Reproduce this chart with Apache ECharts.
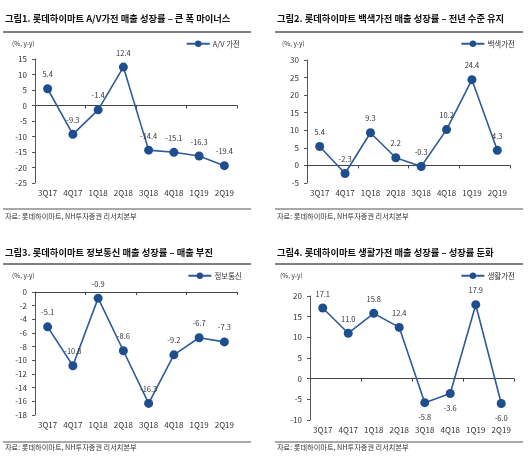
<!DOCTYPE html>
<html><head><meta charset="utf-8">
<script src="https://cdn.jsdelivr.net/npm/echarts@6/dist/echarts.min.js"></script>
<style>html,body{margin:0;padding:0;background:#fff}#c{width:530px;height:459px}</style>
</head><body><div id="c"></div>
<script>
const categories = ['3Q17','4Q17','1Q18','2Q18','3Q18','4Q18','1Q19','2Q19'];
const avValues = [5.4,-9.3,-1.4,12.4,-14.4,-15.1,-16.3,-19.4];
const whiteValues = [5.4,-2.3,9.3,2.2,-0.3,10.2,24.4,4.3];
const infoValues = [-5.1,-10.8,-0.9,-8.6,-16.3,-9.2,-6.7,-7.3];
const lifeValues = [17.1,11.0,15.8,12.4,-5.8,-3.6,17.9,-6.0];
const seriesNames = ['A/V 가전','백색가전','정보통신','생활가전'];
const titles = [
  '그림1. 롯데하이마트 A/V가전 매출 성장률 – 큰 폭 마이너스',
  '그림2. 롯데하이마트 백색가전 매출 성장률 – 전년 수준 유지',
  '그림3. 롯데하이마트 정보통신 매출 성장률 – 매출 부진',
  '그림4. 롯데하이마트 생활가전 매출 성장률 – 성장률 둔화'
];
const sourceText = '자료: 롯데하이마트, NH투자증권 리서치본부';
const unitText = '(%, y-y)';
const yRanges = [[-25,15,5],[-5,30,5],[-18,0,2],[-10,20,5]];
const lifeLabelPos = ['top','top','top','top','bottom','bottom','top','bottom'];

const FONT = '"Noto Sans CJK KR", "Noto Sans", sans-serif';
const LINE = '#2d5b99', DOT = '#1f4e8f', TXT = '#333';
const grids = [
  {left:35, top:59, width:202, height:124},
  {left:307, top:60, width:203, height:123},
  {left:35, top:292, width:202, height:123},
  {left:310, top:296, width:204, height:124}
];
const allData = [avValues, whiteValues, infoValues, lifeValues];
const panelX = [5, 277, 5, 277];
const titleY = [20, 20, 254, 254];
const ruleY = [32, 32, 264, 264];
const srcRuleY = [209, 209, 442, 442];
const srcY = [218, 218, 449, 449];
const unitPos = [[12,45],[282,45],[12,277],[280,277]];
const legendPos = [[290,40],[15,40],[288,272],[15,272]];

const xAxis = [], yAxis = [], series = [], legend = [], graphic = [];
grids.forEach((g, i) => {
  xAxis.push({
    gridIndex:i, type:'category', data:categories, position:'bottom',
    axisLine:{show:false, onZero:false}, axisTick:{show:false},
    axisLabel:{color:TXT, fontSize:8, fontFamily:FONT, margin:6, interval:0}
  });
  xAxis.push({
    gridIndex:i, type:'category', data:categories, position:'bottom',
    axisLine:{show:true, onZero:true, lineStyle:{color:'#444', width:1}},
    axisTick:{show:true, length:3, lineStyle:{color:'#444'}},
    axisLabel:{show:false}
  });
  yAxis.push({
    gridIndex:i, type:'value', min:yRanges[i][0], max:yRanges[i][1], interval:yRanges[i][2],
    axisLine:{show:true, lineStyle:{color:'#555'}},
    axisTick:{show:true, length:3, lineStyle:{color:'#555'}},
    splitLine:{show:false},
    axisLabel:{color:TXT, fontSize:8, fontFamily:FONT, margin:8}
  });
  series.push({
    name:seriesNames[i], type:'line', xAxisIndex:i*2, yAxisIndex:i,
    data: allData[i].map((v, k) => i === 3 ? {value:v, label:{position:lifeLabelPos[k]}} : v),
    symbol:'circle', symbolSize:9,
    lineStyle:{color:LINE, width:1.6},
    itemStyle:{color:DOT},
    label:{show:true, position:'top', distance:6, color:TXT, fontSize:7.5, fontFamily:FONT,
      formatter:p => Number(p.value).toFixed(1)},
    animation:false
  });
  legend.push({
    data:[seriesNames[i]], right:legendPos[i][0], top:legendPos[i][1],
    itemWidth:23, itemHeight:8, itemGap:4, padding:0,
    textStyle:{color:TXT, fontSize:7.5, fontFamily:FONT, padding:[0,0,0,-2]}
  });
  graphic.push({type:'text', left:panelX[i], top:titleY[i]-6,
    style:{text:titles[i], fontSize:9.3, fontWeight:'bold', fill:'#111', fontFamily:FONT}});
  graphic.push({type:'line', shape:{x1:panelX[i]-2, y1:ruleY[i], x2:panelX[i]+246, y2:ruleY[i]},
    style:{stroke:'#555', lineWidth:1.5}});
  graphic.push({type:'line', shape:{x1:panelX[i]-2, y1:srcRuleY[i], x2:panelX[i]+246, y2:srcRuleY[i]},
    style:{stroke:'#555', lineWidth:1.2}});
  graphic.push({type:'text', left:panelX[i], top:srcY[i]-5,
    style:{text:sourceText, fontSize:7.2, fill:TXT, fontFamily:FONT}});
  graphic.push({type:'text', left:unitPos[i][0], top:unitPos[i][1]-5,
    style:{text:unitText, fontSize:6.5, fill:TXT, fontFamily:FONT}});
});

const chart = echarts.init(document.getElementById('c'), null, {renderer:'canvas'});
chart.setOption({
  animation:false, backgroundColor:'#fff',
  grid:grids, xAxis, yAxis, series, legend, graphic
});
</script></body></html>
